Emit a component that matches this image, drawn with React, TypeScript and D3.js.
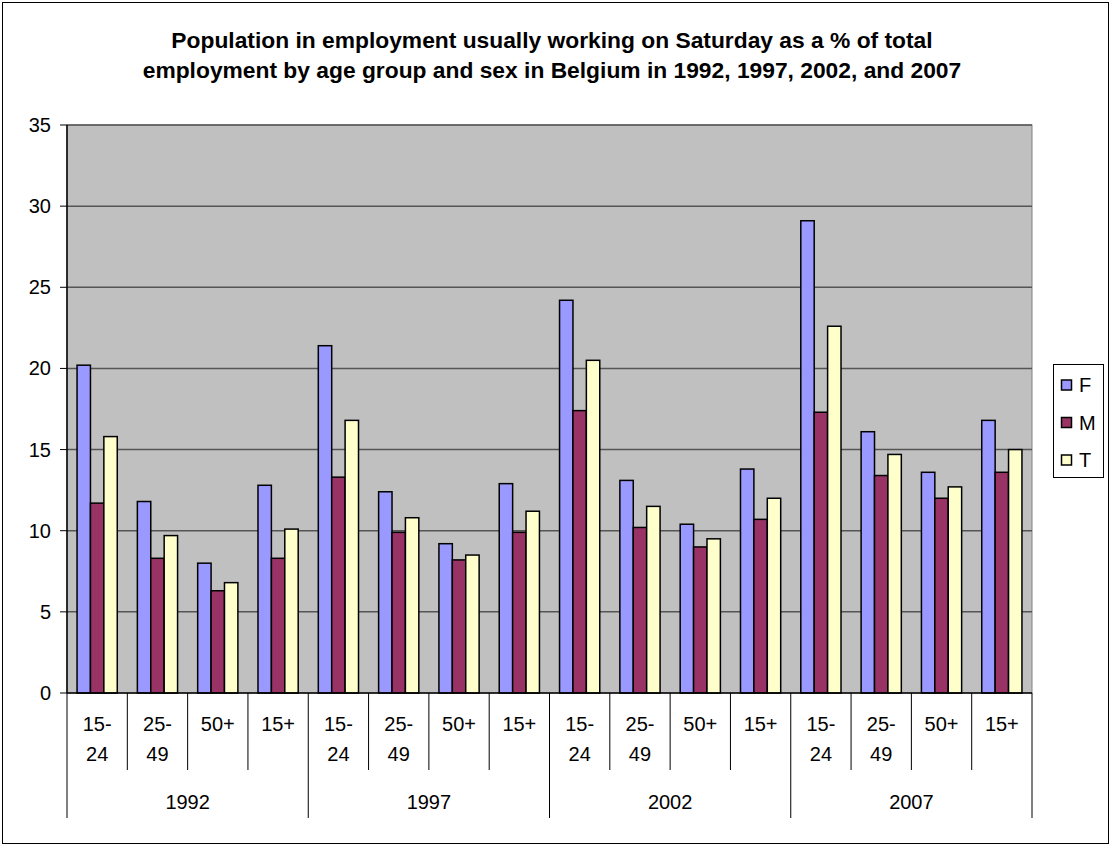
import React from "react";
import * as d3 from "d3";

const years = ["1992", "1997", "2002", "2007"];
const ageGroups = ["15-24", "25-49", "50+", "15+"];
const seriesNames = ["F", "M", "T"];
const seriesColors = ["#9999FF", "#993366", "#FFFFCC"];

// values per year, ordered as ageGroups
const femaleValues = [
  [20.2, 11.8, 8.0, 12.8],
  [21.4, 12.4, 9.2, 12.9],
  [24.2, 13.1, 10.4, 13.8],
  [29.1, 16.1, 13.6, 16.8],
];
const maleValues = [
  [11.7, 8.3, 6.3, 8.3],
  [13.3, 9.9, 8.2, 9.9],
  [17.4, 10.2, 9.0, 10.7],
  [17.3, 13.4, 12.0, 13.6],
];
const totalValues = [
  [15.8, 9.7, 6.8, 10.1],
  [16.8, 10.8, 8.5, 11.2],
  [20.5, 11.5, 9.5, 12.0],
  [22.6, 14.7, 12.7, 15.0],
];
const yTicks = [0, 5, 10, 15, 20, 25, 30, 35];

const titleLines = [
  "Population in employment usually working on Saturday as a % of total",
  "employment by age group and sex in Belgium in 1992, 1997, 2002, and 2007",
];

const W = 1111;
const H = 845;
const plot = { left: 67, right: 1032, top: 125, bottom: 693 };
const font = "Arial, 'Liberation Sans', sans-serif";
const labelSize = 20;

export default function App() {
  const seriesValues = [femaleValues, maleValues, totalValues];
  const cats: { year: string; age: string; yi: number; ai: number; key: string }[] = [];
  years.forEach((year, yi) =>
    ageGroups.forEach((age, ai) => cats.push({ year, age, yi, ai, key: `${year}-${age}` }))
  );

  const x = d3
    .scaleBand<string>()
    .domain(cats.map((c) => c.key))
    .range([plot.left, plot.right])
    .paddingInner(0)
    .paddingOuter(0);
  const step = x.step();
  const barW = step / 4.5; // three bars plus a 150% gap
  const y = d3.scaleLinear().domain([0, 35]).range([plot.bottom, plot.top]);

  const catTickBottom = 770;
  const yearTickBottom = 818;

  return (
    <svg width={W} height={H} style={{ display: "block", position: "absolute", left: 0, top: 0 }}>
      <rect x={0} y={0} width={W} height={H} fill="#fff" />
      <rect x={2.5} y={2.5} width={1106} height={841} fill="#fff" stroke="#000" strokeWidth={1} />

      {titleLines.map((t, i) => (
        <text
          key={i}
          x={552}
          y={48 + i * 30}
          textAnchor="middle"
          fontFamily={font}
          fontWeight="bold"
          fontSize={22.8}
          fill="#000"
        >
          {t}
        </text>
      ))}

      <rect
        x={plot.left}
        y={plot.top}
        width={plot.right - plot.left}
        height={plot.bottom - plot.top}
        fill="#C0C0C0"
        stroke="#808080"
        strokeWidth={1}
      />
      {yTicks.map((t) => (
        <g key={t}>
          {t > 0 && (
            <line x1={plot.left} x2={plot.right} y1={y(t)} y2={y(t)} stroke="#555" strokeWidth={1.5} />
          )}
          <line x1={plot.left - 7} x2={plot.left} y1={y(t)} y2={y(t)} stroke="#000" strokeWidth={1} />
          <text
            x={51}
            y={y(t)}
            dy="0.35em"
            textAnchor="end"
            fontFamily={font}
            fontSize={labelSize}
            fill="#000"
          >
            {t}
          </text>
        </g>
      ))}

      {cats.map((c) =>
        seriesValues.map((sv, si) => {
          const v = sv[c.yi][c.ai];
          const bx = (x(c.key) as number) + barW * 0.75 + si * barW;
          return (
            <rect
              key={c.key + si}
              x={bx}
              y={y(v)}
              width={barW}
              height={y(0) - y(v)}
              fill={seriesColors[si]}
              stroke="#000"
              strokeWidth={1.5}
            />
          );
        })
      )}

      <line x1={plot.left} x2={plot.left} y1={plot.top} y2={plot.bottom} stroke="#000" strokeWidth={1.5} />
      <line x1={plot.left} x2={plot.right} y1={plot.bottom} y2={plot.bottom} stroke="#000" strokeWidth={1.5} />

      {/* category separators and labels */}
      {cats.map((c) => {
        const x0 = x(c.key) as number;
        const isYearStart = c.ai === 0;
        const parts = c.age.includes("-") ? [c.age.split("-")[0] + "-", c.age.split("-")[1]] : [c.age];
        return (
          <g key={"lab" + c.key}>
            <line
              x1={x0}
              x2={x0}
              y1={plot.bottom}
              y2={isYearStart ? yearTickBottom : catTickBottom}
              stroke="#000"
              strokeWidth={1}
            />
            {parts.map((p, pi) => (
              <text
                key={pi}
                x={x0 + step / 2}
                y={724 + pi * 30}
                dy="0.35em"
                textAnchor="middle"
                fontFamily={font}
                fontSize={labelSize}
                fill="#000"
              >
                {p}
              </text>
            ))}
          </g>
        );
      })}
      <line x1={plot.right} x2={plot.right} y1={plot.bottom} y2={yearTickBottom} stroke="#000" strokeWidth={1} />
      {years.map((yr) => {
        const x0 = x(`${yr}-${ageGroups[0]}`) as number;
        return (
          <text
            key={yr}
            x={x0 + step * 2}
            y={802}
            dy="0.35em"
            textAnchor="middle"
            fontFamily={font}
            fontSize={labelSize}
            fill="#000"
          >
            {yr}
          </text>
        );
      })}

      {/* legend */}
      <rect x={1053.5} y={364.5} width={50} height={113} fill="#fff" stroke="#000" strokeWidth={1} />
      {seriesNames.map((s, i) => {
        const cy = 385 + i * 37.5;
        return (
          <g key={s}>
            <rect x={1061.5} y={cy - 5} width={10} height={10} fill={seriesColors[i]} stroke="#000" strokeWidth={1.5} />
            <text x={1079} y={cy} dy="0.35em" fontFamily={font} fontSize={labelSize} fill="#000">
              {s}
            </text>
          </g>
        );
      })}
    </svg>
  );
}
